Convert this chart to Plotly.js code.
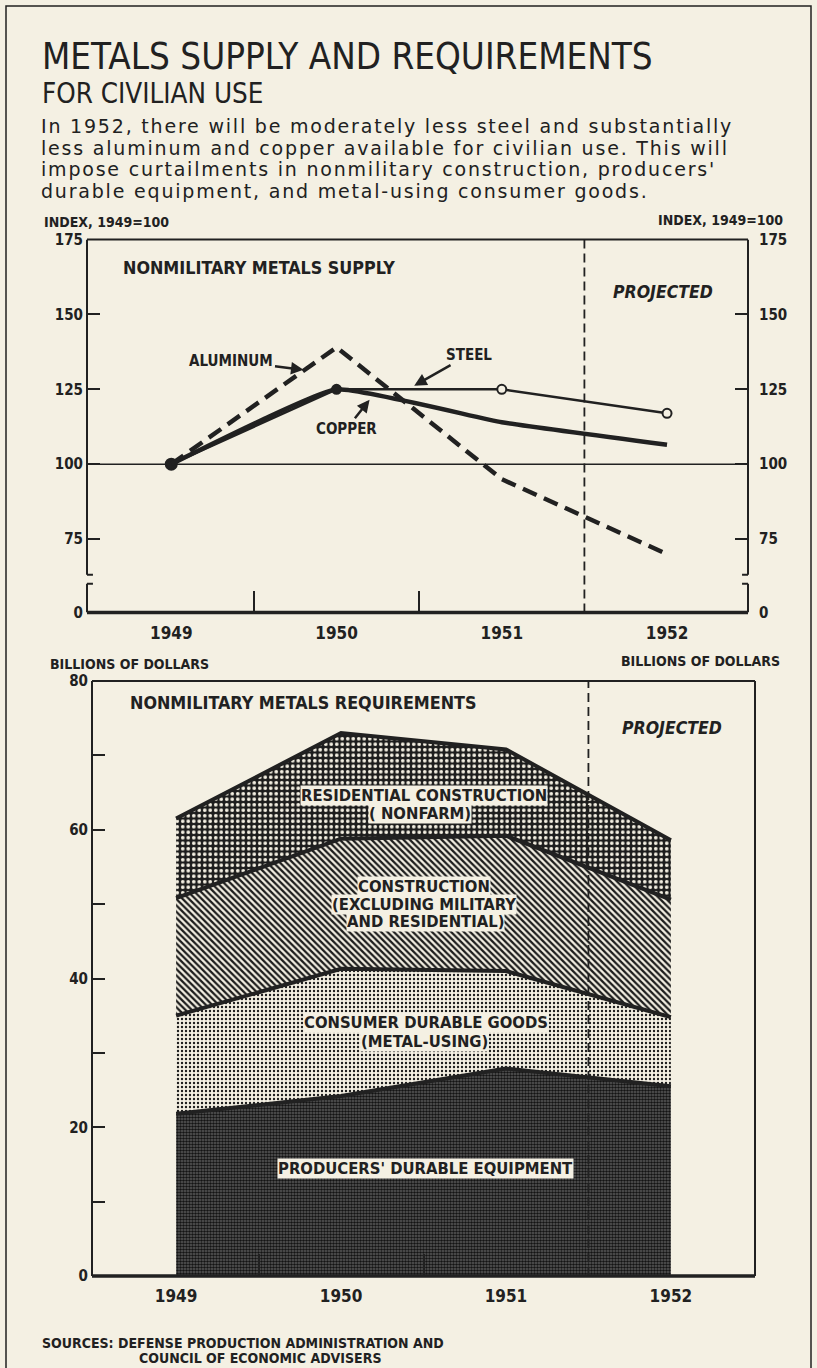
<!DOCTYPE html>
<html><head><meta charset="utf-8">
<script src="https://cdn.plot.ly/plotly-3.0.1.min.js"></script>
<style>
html,body{margin:0;padding:0;background:#f4f0e3;}
#chart{width:817px;height:1368px;}
g.annotation[data-index="2"] text, g.annotation[data-index="3"] text,
g.annotation[data-index="4"] text, g.annotation[data-index="5"] text { letter-spacing: 1.8px; }
</style>
</head><body><div id="chart"></div>
<script>
// ---------- data ----------
const years = [1949, 1950, 1951, 1952];
const yearTicks = ['1949', '1950', '1951', '1952'];
const halfYears = [1949.5, 1950.5];
const projectedFrom = 1951.5;

// Nonmilitary metals supply, index 1949 = 100
const aluminum = [100, 139, 95, 70];
const steel = [100, 125, 125, 117];
const copper = [100, 125, 114, 106.5];
const supplyTickVals = [50.5, 75, 100, 125, 150, 175];   // axis is broken below 75
const supplyTickText = ['0', '75', '100', '125', '150', '175'];
const supplyBreak = [60.1, 63.1];

// Nonmilitary metals requirements, billions of dollars (stacked)
const producers = [21.8, 24.2, 27.9, 25.5];
const consumer = [13.2, 17.1, 13.1, 9.3];
const construction = [15.8, 17.5, 18.2, 15.8];
const residential = [10.7, 14.2, 11.6, 8.0];
const reqTickVals = [0, 10, 20, 30, 40, 50, 60, 70, 80];
const reqTickText = ['0', '', '20', '', '40', '', '60', '', '80'];

// ---------- styling ----------
const W = 817, H = 1368;
const px = x => x / W;
const py = y => 1 - y / H;
const INK = '#212121';
const BG = '#f4f0e3';
const COND = "'DejaVu Sans Condensed', 'Liberation Sans Narrow', 'Roboto Condensed', 'Noto Sans', sans-serif";
const WIDE = "'DejaVu Sans', Verdana, sans-serif";

const tickFont = {family: COND, size: 15, color: INK, weight: 'bold'};
const yearFont = {family: COND, size: 17, color: INK, weight: 'bold'};

function yAxis(domain, range, side, overlay, anchor, vals, text, standoff) {
  const a = {
    domain: domain, range: range, anchor: anchor, side: side,
    showline: false, zeroline: false, showgrid: false, fixedrange: true,
    tickmode: 'array', tickvals: vals, ticktext: text,
    ticks: 'inside', ticklen: 13, tickwidth: 2, tickcolor: INK,
    tickfont: tickFont, ticklabelstandoff: standoff
  };
  if (overlay) a.overlaying = overlay;
  return a;
}
function xAxis(domain, range, anchor) {
  return {
    domain: domain, range: range, anchor: anchor,
    showline: false, zeroline: false, showgrid: false, fixedrange: true,
    tickmode: 'array', tickvals: years, ticktext: yearTicks, ticks: '',
    tickfont: yearFont, ticklabelstandoff: 8,
    minor: {tickmode: 'array', tickvals: halfYears, ticks: 'inside', ticklen: 22,
            tickwidth: 2, tickcolor: INK, showgrid: false}
  };
}

const traces = [
  {x: years, y: aluminum, xaxis: 'x', yaxis: 'y3', mode: 'lines', name: 'Aluminum',
   line: {color: INK, width: 4.5, dash: '15px,8px'}},
  {x: years, y: copper, xaxis: 'x', yaxis: 'y', mode: 'lines', name: 'Copper',
   line: {color: INK, width: 4.5, shape: 'spline', smoothing: 0.35}},
  {x: years, y: steel, xaxis: 'x', yaxis: 'y', mode: 'lines+markers', name: 'Steel',
   line: {color: INK, width: 2.5},
   marker: {size: [11, 9, 9, 9], opacity: 1, color: [INK, INK, BG, BG], line: {color: INK, width: 2}}},
  {x: years, y: producers, xaxis: 'x2', yaxis: 'y2', stackgroup: 'req', mode: 'lines',
   name: "Producers' durable equipment", line: {color: INK, width: 4},
   fillcolor: '#555555',
   fillpattern: {shape: '.', bgcolor: '#5c5c5c', fgcolor: '#141414', size: 3, solidity: 0.55}},
  {x: years, y: consumer, xaxis: 'x2', yaxis: 'y2', stackgroup: 'req', mode: 'lines',
   name: 'Consumer durable goods', line: {color: INK, width: 4},
   fillcolor: BG,
   fillpattern: {shape: '.', bgcolor: BG, fgcolor: '#1c1c1c', size: 4, solidity: 0.28}},
  {x: years, y: construction, xaxis: 'x2', yaxis: 'y2', stackgroup: 'req', mode: 'lines',
   name: 'Construction', line: {color: INK, width: 4},
   fillcolor: BG,
   fillpattern: {shape: '\\', bgcolor: BG, fgcolor: '#1c1c1c', size: 4.5, solidity: 0.5}},
  {x: years, y: residential, xaxis: 'x2', yaxis: 'y2', stackgroup: 'req', mode: 'lines',
   name: 'Residential construction', line: {color: INK, width: 4},
   fillcolor: '#222',
   fillpattern: {shape: '.', bgcolor: '#1c1c1c', fgcolor: BG, size: 5.5, solidity: 0.36}}
];

function txt(text, x, y, font, extra) {
  return Object.assign({text: text, xref: 'paper', yref: 'paper', x: px(x), y: py(y),
    xanchor: 'left', yanchor: 'middle', showarrow: false, align: 'left', font: font}, extra || {});
}
function boxed(text, x, y) {
  return txt(text, x, y, areaFont, {xanchor: 'center', align: 'center', bgcolor: BG, borderpad: 0});
}
const smallBold = {family: COND, size: 14, color: INK, weight: 'bold'};
const srcFont = {family: COND, size: 14, color: INK, weight: 'bold'};
const panelTitle = {family: COND, size: 17.8, color: INK, weight: 'bold'};
const projFont = {family: COND, size: 17.5, color: INK, weight: 'bold', style: 'italic'};
const areaFont = {family: COND, size: 16.5, color: INK, weight: 'bold'};
const arrowFont = {family: COND, size: 15, color: INK, weight: 'bold'};
const paraFont = {family: WIDE, size: 19, color: INK};

const annotations = [
  txt('METALS SUPPLY AND REQUIREMENTS', 40, 56, {family: COND, size: 36.5, color: INK}),
  txt('FOR CIVILIAN USE', 40, 93, {family: COND, size: 27.5, color: INK}),
  txt('In 1952, there will be moderately less steel and substantially', 39, 126.5, paraFont),
  txt('less aluminum and copper available for civilian use. This will', 39, 148, paraFont),
  txt("impose curtailments in nonmilitary construction, producers'", 39, 169.5, paraFont),
  txt('durable equipment, and metal-using consumer goods.', 39, 191, paraFont),
  txt('INDEX, 1949=100', 42, 222, smallBold),
  txt('INDEX, 1949=100', 785, 220, smallBold, {xanchor: 'right'}),
  txt('NONMILITARY METALS SUPPLY', 121, 267, panelTitle),
  txt('PROJECTED', 611, 292, projFont),
  txt('BILLIONS OF DOLLARS', 48, 664, smallBold),
  txt('BILLIONS OF DOLLARS', 782, 661, smallBold, {xanchor: 'right'}),
  txt('NONMILITARY METALS REQUIREMENTS', 128, 703, panelTitle),
  txt('PROJECTED', 620, 728, projFont),
  boxed('RESIDENTIAL CONSTRUCTION', 424, 795),
  boxed('( NONFARM)', 420, 813),
  boxed('CONSTRUCTION', 424, 886),
  boxed('(EXCLUDING MILITARY', 424, 904),
  boxed('AND RESIDENTIAL)', 426, 921.5),
  boxed('CONSUMER DURABLE GOODS', 426, 1022.5),
  boxed('(METAL-USING)', 424, 1041),
  boxed("PRODUCERS' DURABLE EQUIPMENT", 426, 1168),
  txt('SOURCES: DEFENSE PRODUCTION ADMINISTRATION AND', 40, 1343, srcFont),
  txt('COUNCIL OF ECONOMIC ADVISERS', 137, 1358, srcFont),
  // series labels with arrows (tip on the line, text offset in pixels)
  {text: 'ALUMINUM', xref: 'x', yref: 'y', x: 1949.8, y: 131.5, ax: -72, ay: -9,
   axref: 'pixel', ayref: 'pixel', showarrow: true, arrowhead: 2, arrowsize: 1, arrowwidth: 2.5,
   arrowcolor: INK, font: arrowFont},
  {text: 'STEEL', xref: 'x', yref: 'y', x: 1950.47, y: 126.2, ax: 55, ay: -31,
   axref: 'pixel', ayref: 'pixel', showarrow: true, arrowhead: 2, arrowsize: 1, arrowwidth: 2.5,
   arrowcolor: INK, font: arrowFont},
  {text: 'COPPER', xref: 'x', yref: 'y', x: 1950.2, y: 121.5, ax: -23, ay: 29,
   axref: 'pixel', ayref: 'pixel', showarrow: true, arrowhead: 2, arrowsize: 1, arrowwidth: 2.5,
   arrowcolor: INK, font: arrowFont}
];

function ln(xref, yref, x0, y0, x1, y1, w, extra) {
  return Object.assign({type: 'line', xref: xref, yref: yref, x0: x0, y0: y0, x1: x1, y1: y1,
    line: {color: INK, width: w}, layer: 'above'}, extra || {});
}
const stub = 0.009;
const dashed = {color: INK, width: 1.8, dash: '9px,5px'};
const shapes = [
  // outer border
  {type: 'path', xref: 'paper', yref: 'paper',
   path: 'M ' + px(6) + ' ' + py(1400) + ' L ' + px(6) + ' ' + py(6) + ' L ' + px(811) + ' ' + py(6) + ' L ' + px(811) + ' ' + py(1400),
   line: {color: INK, width: 1.5}},
  // --- supply panel frame ---
  ln('x domain', 'y domain', 0, 1, 1, 1, 2.2),
  ln('x domain', 'y', 0, 175, 0, supplyBreak[1], 2),
  ln('x domain', 'y', 0, supplyBreak[1], stub, supplyBreak[1], 2),
  ln('x domain', 'y', 0, supplyBreak[0], 0, supplyTickVals[0], 2),
  ln('x domain', 'y', 0, supplyBreak[0], stub, supplyBreak[0], 2),
  ln('x domain', 'y', 1, 175, 1, supplyBreak[1], 2),
  ln('x domain', 'y', 1, supplyBreak[1], 1 - stub, supplyBreak[1], 2),
  ln('x domain', 'y', 1, supplyBreak[0], 1, supplyTickVals[0], 2),
  ln('x domain', 'y', 1, supplyBreak[0], 1 - stub, supplyBreak[0], 2),
  ln('x domain', 'y domain', 0, 0, 1, 0, 3.5),
  ln('x domain', 'y', 0, 100, 1, 100, 1.6, {layer: 'below'}),
  ln('x', 'y domain', projectedFrom, 0, projectedFrom, 1, 1.8, {line: dashed}),
  // --- requirements panel frame ---
  ln('x2 domain', 'y2 domain', 0, 1, 1, 1, 2.2),
  ln('x2 domain', 'y2 domain', 0, 0, 0, 1, 2),
  ln('x2 domain', 'y2 domain', 1, 0, 1, 1, 2),
  ln('x2 domain', 'y2 domain', 0, 0, 1, 0, 3.5),
  ln('x2', 'y2 domain', projectedFrom, 0, projectedFrom, 1, 1.8, {line: dashed})
];

const layout = {
  width: W, height: H, margin: {l: 0, r: 0, t: 0, b: 0},
  paper_bgcolor: BG, plot_bgcolor: 'rgba(0,0,0,0)', showlegend: false,
  hovermode: false,
  xaxis: xAxis([px(87), px(748)], [1948.49, 1952.49], 'y'),
  yaxis: yAxis([py(612.5), py(239.5)], [50.5, 175], 'left', null, 'x', supplyTickVals, supplyTickText, 3),
  yaxis3: yAxis([py(612.5), py(239.5)], [50.5, 175], 'right', 'y', 'x', supplyTickVals, supplyTickText, 10),
  xaxis2: xAxis([px(92), px(755)], [1948.49, 1952.51], 'y2'),
  yaxis2: yAxis([py(1276), py(681)], [0, 80], 'left', null, 'x2', reqTickVals, reqTickText, 3),
  yaxis4: yAxis([py(1276), py(681)], [0, 80], 'right', 'y2', 'x2', reqTickVals, reqTickText, 10),
  annotations: annotations,
  shapes: shapes
};

Plotly.newPlot('chart', traces, layout, {staticPlot: true, displayModeBar: false});
</script>
</body></html>
